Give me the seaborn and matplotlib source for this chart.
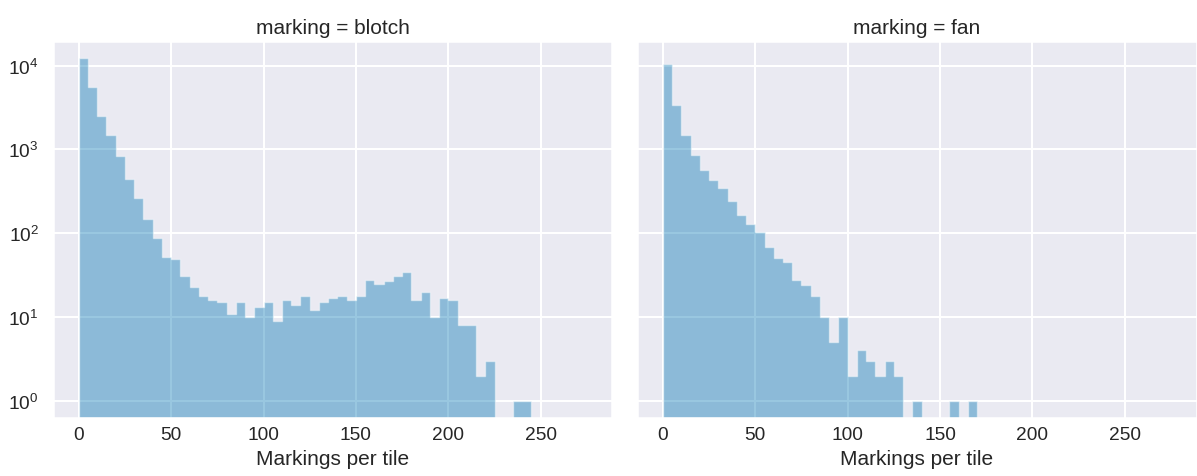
import numpy as np
import pandas as pd
import seaborn as sns
import matplotlib
matplotlib.use("Agg")
import matplotlib.pyplot as plt

# Histogram bins: 5 markings wide, from 0 to 275
bin_width = 5
bin_edges = list(range(0, 280, bin_width))

# Tiles per bin for each marking type
blotch_counts = [
    12400, 5610, 2490, 1476, 843, 440, 263, 147, 87, 52,
    49, 31, 23, 18, 16, 15, 11, 15, 10, 13,
    15, 9, 16, 14, 18, 12, 15, 17, 18, 16,
    18, 28, 25, 27, 31, 34, 16, 20, 10, 17,
    16, 8, 8, 2, 3, 0, 0, 1, 1, 0,
    0, 0, 0, 0, 0,
]
fan_counts = [
    10470, 3400, 1480, 855, 571, 434, 349, 239, 166, 129,
    104, 68, 50, 45, 28, 24, 18, 10, 5, 10,
    2, 4, 3, 2, 3, 2, 0, 1, 0, 0,
    0, 1, 0, 1, 0, 0, 0, 0, 0, 0,
    0, 0, 0, 0, 0, 0, 0, 0, 0, 0,
    0, 0, 0, 0, 0,
]
markings = ["blotch", "fan"]

centers = np.array(bin_edges[:-1]) + bin_width / 2
df = pd.DataFrame({
    "marking": np.repeat(markings, len(centers)),
    "Markings per tile": np.tile(centers, len(markings)),
    "count": blotch_counts + fan_counts,
})

sns.set_theme(
    context="talk", style="darkgrid", font_scale=1.25 / 1.5,
    rc={
        "xtick.major.size": 0, "ytick.major.size": 0,
        "xtick.major.pad": 5.3, "ytick.major.pad": 10.5,
        "axes.labelpad": 4.7, "axes.titlepad": 5.5,
    },
)
plt.rcParams["font.family"] = ["Liberation Sans", "DejaVu Sans"]

W, H = 1197, 477
g = sns.FacetGrid(df, col="marking", col_order=markings, sharex=True, sharey=True,
                  height=H / 100, aspect=(W / 2) / H, despine=False)
g.map_dataframe(
    sns.histplot, x="Markings per tile", weights="count", bins=bin_edges,
    element="step", fill=True, color="#0173B2", alpha=0.4,
    edgecolor=(1, 1, 1, 0.45), linewidth=1.0,
)
for ax in g.axes.flat:
    ax.set_yscale("log")
    ax.set_ylabel("")
g.set(xlim=(-13.75, 288.75), ylim=(0.62, 19600), xticks=[0, 50, 100, 150, 200, 250])
g.set_xlabels("Markings per tile")
g.figure.set_size_inches(W / 100, H / 100)
g.figure.subplots_adjust(left=53.3 / W, right=1196.5 / W,
                         bottom=1 - 419.3 / H, top=1 - 42 / H, wspace=0.045)
g.figure.savefig("out.png", dpi=100)
